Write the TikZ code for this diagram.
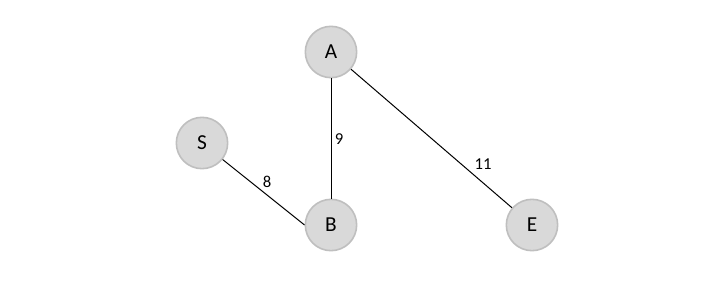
\documentclass[tikz,border=0pt]{standalone}
\usepackage{fontspec}
\setmainfont{Carlito}
\usepackage{tikz}
\usetikzlibrary{positioning}
\definecolor{nodefill}{HTML}{D9D9D9}
\definecolor{nodeline}{HTML}{BFBFBF}
\tikzset{
  vx/.style={circle,draw=nodeline,line width=1.2pt,fill=nodefill,minimum size=38.5pt,inner sep=0pt,font=\fontsize{16}{19}\selectfont},
  ed/.style={draw=black,line width=0.75pt},
  wt/.style={font=\fontsize{12.5}{15}\selectfont,inner sep=1pt}
}
\begin{document}
\begin{tikzpicture}[x=0.75pt,y=-0.75pt]
\useasboundingbox[fill=white] (0,0) rectangle (701,286);
\node[vx] (A) at (331,52) {A};
\node[vx] (S) at (202,143) {S};
\node[vx] (B) at (331,225) {B};
\node[vx] (E) at (532,225) {E};
\draw[ed] (A) -- (B);
\draw[ed] (S) -- (B.west);
\draw[ed] (A) -- (E);
\node[wt] (w9) at (339,139) {9};
\node[wt] (w8) at (267,182) {8};
\node[wt] (w11) at (483,164) {11};
\end{tikzpicture}
\end{document}
